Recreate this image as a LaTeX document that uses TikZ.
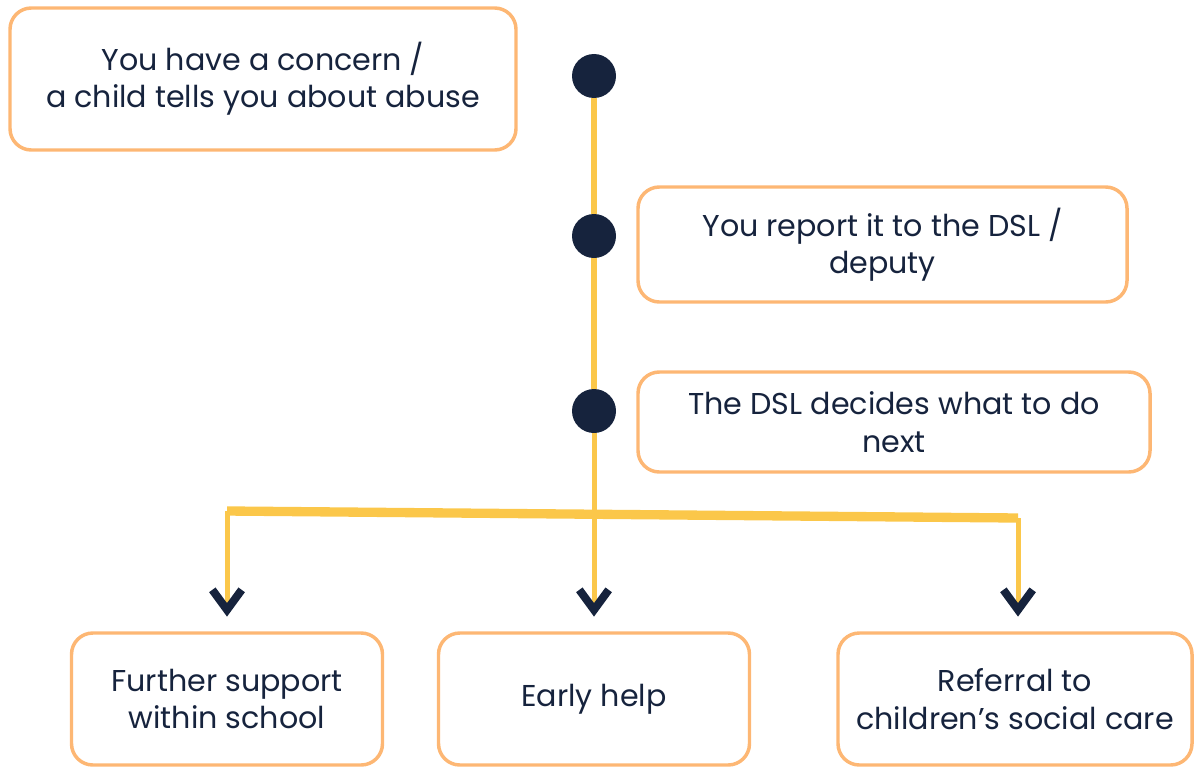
\documentclass[tikz,border=0pt]{standalone}
\usepackage{fontspec}
\setmainfont{Poppins}
\usetikzlibrary{positioning,arrows.meta}
\definecolor{navy}{HTML}{16233D}
\definecolor{boxline}{HTML}{FDB774}
\definecolor{track}{HTML}{FBC74A}

\begin{document}
\begin{tikzpicture}[
x=0.75pt, y=-0.75pt,
every node/.style={font=\fontsize{22.6}{28}\selectfont, text=navy, align=center},
stepbox/.style={draw=boxline, line width=2.6pt, rounded corners=16pt, fill=white},
dot/.style={circle, fill=navy, minimum size=33pt, inner sep=0pt},
trunk/.style={draw=track, line width=4.8pt},
bar/.style={draw=track, line width=7pt},
drop/.style={draw=track, line width=3.75pt, shorten >=11pt,
  -{Straight Barb[color=navy,length=15pt,width=22pt,line width=6pt]}},
]
\useasboundingbox (0,0) rectangle (1194,767);

% steps
\node[stepbox, minimum width=379.5pt, minimum height=106.5pt] (concern) at (263,79)
  {You have a concern /\\a child tells you about abuse};
\node[stepbox, minimum width=366.75pt, minimum height=86.25pt] (report) at (882.5,244.5)
  {You report it to the DSL /\\deputy};
\node[stepbox, minimum width=384pt, minimum height=75pt] (decide) at (894,422)
  {The DSL decides what to do\\next};

% outcomes
\node[stepbox, minimum width=233.25pt, minimum height=99pt] (further) at (227,699)
  {Further support\\within school};
\node[stepbox, minimum width=233.25pt, minimum height=99pt] (early) at (594,699)
  {Early help};
\node[stepbox, minimum width=265.5pt, minimum height=99pt] (social) at (1015,699)
  {Referral to\\children’s social care};

% timeline
\node[dot] (d1) at (594,76) {};
\node[dot] (d2) at (594,236) {};
\node[dot] (d3) at (594,411) {};
\coordinate (bl) at (227,511);
\coordinate (br) at (1018,518);

\draw[trunk] (d1) -- (d2);
\draw[trunk] (d2) -- (d3);
\draw[bar] (bl) -- (br);
\draw[drop] (d3) -- (early);
\draw[drop] (bl) -- (further);
\draw[drop] (br) -- (br |- social.north);

\end{tikzpicture}
\end{document}
